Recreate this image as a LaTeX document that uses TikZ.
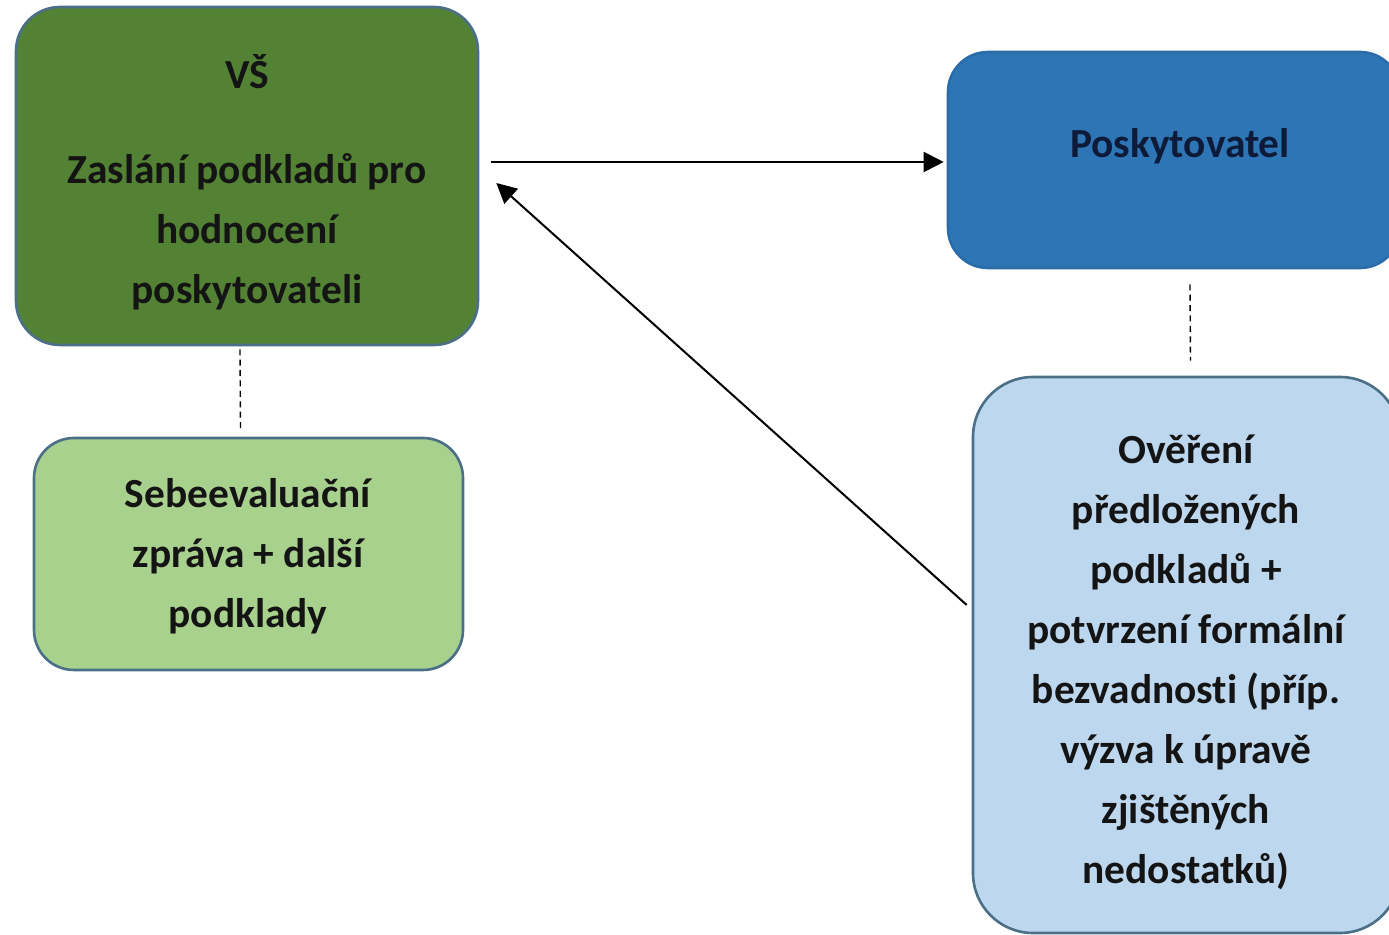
\documentclass[tikz,border=0pt]{standalone}
\usepackage{fontspec}
\setmainfont{Carlito}[Ligatures=NoCommon]
\usetikzlibrary{arrows.meta}
\definecolor{dgreen}{HTML}{548235}
\definecolor{lgreen}{HTML}{A9D18E}
\definecolor{mblue}{HTML}{2E75B6}
\definecolor{lblue}{HTML}{BDD7EE}
\definecolor{edgec}{HTML}{4A6F86}
\definecolor{navy}{HTML}{0E1B38}
\tikzset{
  box/.style={draw=edgec, line width=1.3pt, rounded corners=#1, inner sep=0pt},
  box/.default=22pt,
  lbl/.style={font=\bfseries\fontsize{20.7}{30}\selectfont, align=center, text=black!92, inner sep=0pt},
  arr/.style={line width=1pt, -{Triangle[length=10pt,width=10pt]}},
  dash line/.style={line width=0.7pt, dash pattern=on 3pt off 2.2pt}
}
\begin{document}
\begin{tikzpicture}[x=0.5pt,y=-0.5pt]
\useasboundingbox (0,0) rectangle (1389,935);
\begin{scope}
\clip (0,0) rectangle (1389,935);
% boxes
\node[box=22pt, fill=dgreen, minimum width=231pt, minimum height=169pt] (vs) at (247,176) {};
\node[box=20pt, fill=lgreen, minimum width=214.5pt, minimum height=116pt] (sub) at (248.5,554) {};
\node[box=20pt, draw=mblue!92!black, fill=mblue, minimum width=226pt, minimum height=108pt] (pos) at (1174,160) {};
\node[box=30pt, fill=lblue, minimum width=213.5pt, minimum height=278pt] (ov) at (1186.5,655) {};
\end{scope}
% texts
\node[lbl] (vst) at (247,72) {VŠ};
\node[lbl] (vsb) at (247,232) {Zaslání podkladů pro\\hodnocení\\poskytovateli};
\node[lbl] (subt) at (248,556) {Sebeevaluační\\zpráva + další\\podklady};
\node[lbl, text=navy] (post) at (1180,146) {Poskytovatel};
\node[lbl] (ovt) at (1186,662) {Ověření\\předložených\\podkladů +\\potvrzení formální\\bezvadnosti (příp.\\výzva k úpravě\\zjištěných\\nedostatků)};
% connectors
\draw[arr] ([shift={(12,-14)}]vs.east) -- ([shift={(-3,2)}]pos.west);
\draw[arr] ([shift={(-5,-50)}]ov.west) -- ([shift={(17,7)}]vs.east);
\draw[dash line] ([shift={(-7,3)}]vs.south) -- ([shift={(-8,-8)}]sub.north);
\draw[dash line] ([shift={(16,15)}]pos.south) -- ([shift={(4,-15)}]ov.north);
\end{tikzpicture}
\end{document}
